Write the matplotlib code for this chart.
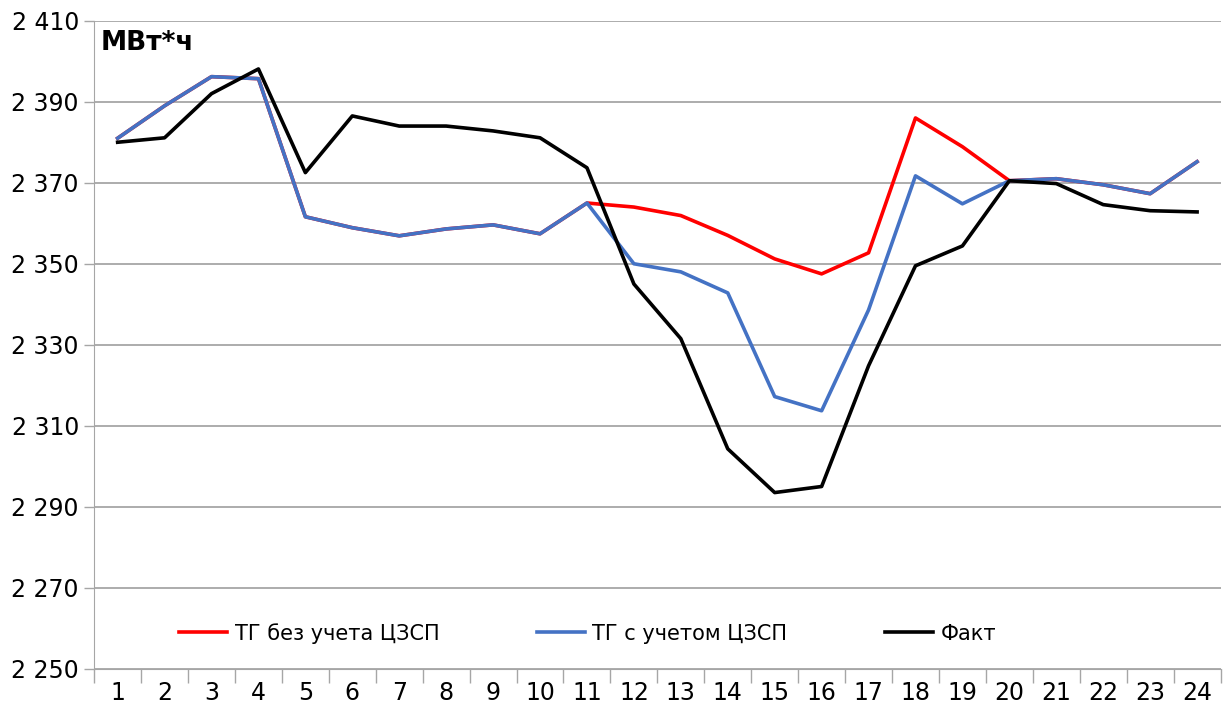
import numpy as np
import matplotlib
matplotlib.use('Agg')
import matplotlib.pyplot as plt
from matplotlib.ticker import FuncFormatter, FixedLocator

plt.rcParams['font.family'] = ['Liberation Sans Narrow', 'DejaVu Sans']

hours = list(range(1, 25))
# ТГ без учета ЦЗСП
tg_without = [2381, 2389, 2396.2, 2395.7, 2361.6, 2358.9, 2356.9, 2358.6, 2359.6, 2357.4,
              2365, 2364, 2361.9, 2357, 2351.2, 2347.5, 2352.7, 2386, 2378.9, 2370.5,
              2371, 2369.5, 2367.3, 2375.2]
# ТГ с учетом ЦЗСП
tg_with = [2381, 2389, 2396.2, 2395.7, 2361.6, 2358.9, 2356.9, 2358.6, 2359.6, 2357.4,
           2365, 2350, 2348, 2342.8, 2317.2, 2313.7, 2338.6, 2371.7, 2364.8, 2370.5,
           2371, 2369.5, 2367.3, 2375.2]
# Факт
fact = [2380, 2381.1, 2392, 2398.1, 2372.5, 2386.5, 2384, 2384, 2382.8, 2381.1,
        2373.7, 2345, 2331.5, 2304.3, 2293.5, 2295, 2324.8, 2349.5, 2354.4, 2370.5,
        2369.8, 2364.6, 2363.1, 2362.8]

fig = plt.figure(figsize=(12.23, 7.16), dpi=100)
ax = fig.add_axes([0.077, 0.066, 0.921, 0.905])

x = np.arange(len(hours))
ax.plot(x, tg_without, color='#ff0000', lw=2.6, label='ТГ без учета ЦЗСП')
ax.plot(x, tg_with, color='#4472c4', lw=2.6, label='ТГ с учетом ЦЗСП')
ax.plot(x, fact, color='#000000', lw=2.6, label='Факт')

ax.set_ylim(2250, 2410)
ax.set_xlim(-0.5, len(hours) - 0.5)
ax.set_yticks(np.arange(2250, 2411, 20))
ax.yaxis.set_major_formatter(FuncFormatter(lambda v, p: '{:,.0f}'.format(v).replace(',', ' ')))
ax.grid(axis='y', color='#a6a6a6', lw=1.3)
ax.set_axisbelow(True)

# category boundaries as tick marks, labels at centres
ax.xaxis.set_major_locator(FixedLocator(np.arange(-0.5, len(hours), 1)))
ax.xaxis.set_major_formatter(FuncFormatter(lambda v, p: ''))
ax.xaxis.set_minor_locator(FixedLocator(x))
ax.set_xticklabels([str(h) for h in hours], minor=True)
ax.tick_params(axis='x', which='major', length=10, color='#a6a6a6', width=1)
ax.tick_params(axis='x', which='minor', length=0, pad=9, labelsize=17)
ax.tick_params(axis='y', length=7, color='#a6a6a6', width=1, labelsize=17, pad=4)

for s in ['top', 'right']:
    ax.spines[s].set_visible(False)
ax.spines['left'].set_color('#a6a6a6')
ax.spines['bottom'].set_color('#a6a6a6')

ax.text(0.006, 0.985, 'МВт*ч', transform=ax.transAxes, fontsize=19, fontweight='bold',
        va='top', ha='left')

ax.legend(loc='center left', bbox_to_anchor=(0.059, 0.055), ncol=3, frameon=False,
          fontsize=15, columnspacing=4.7, handlelength=2.3, handletextpad=0.35)

fig.savefig('out.png')
